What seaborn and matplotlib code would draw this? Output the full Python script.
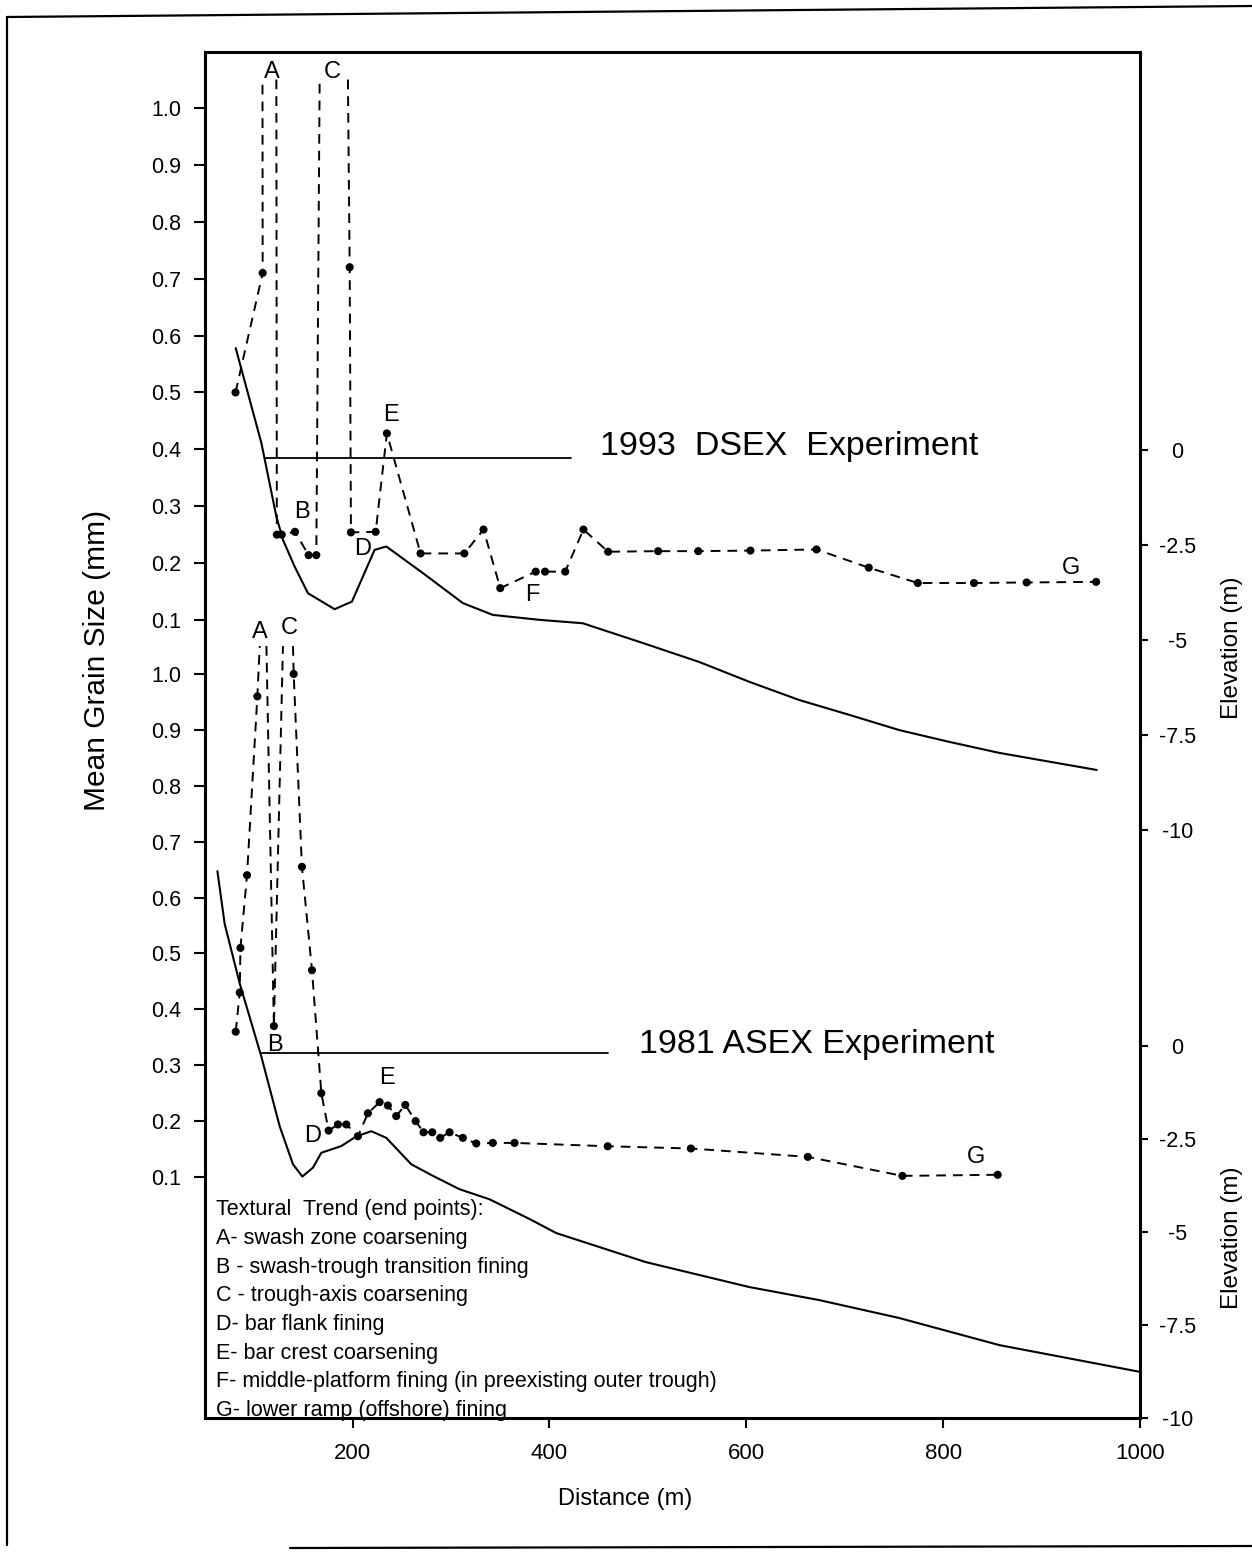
import numpy as np
import pandas as pd
import matplotlib
matplotlib.use("Agg")
import matplotlib.pyplot as plt
import seaborn as sns
from matplotlib.lines import Line2D

# ------------------------------------------------------------------ data
distance_ticks = [200, 400, 600, 800, 1000]
grain_ticks = [0.1, 0.2, 0.3, 0.4, 0.5, 0.6, 0.7, 0.8, 0.9, 1.0]
grain_tick_labels = ["0.1", "0.2", "0.3", "0.4", "0.5", "0.6", "0.7", "0.8", "0.9", "1.0"]
elev_ticks = [0, -2.5, -5, -7.5, -10]
elev_tick_labels = ["0", "-2.5", "-5", "-7.5", "-10"]

# 1993 DSEX: mean grain size samples (mm)
dsex_dist = [81, 108.6, 123, 128, 141.4, 155.3, 163.1, 197, 198.3, 223.4, 234.8,
             269, 313.5, 333, 350, 386, 395.5, 416, 434.5, 459.6, 510.4, 551.2,
             604.2, 671.3, 724.4, 774.2, 831.3, 884.8, 955.4]
dsex_size = [0.50, 0.71, 0.25, 0.25, 0.255, 0.214, 0.214, 0.72, 0.254, 0.255, 0.428,
             0.217, 0.217, 0.259, 0.156, 0.185, 0.185, 0.185, 0.259, 0.22, 0.221, 0.221,
             0.222, 0.224, 0.192, 0.165, 0.165, 0.166, 0.167]
# (sample index after which the trace runs off the top, x where it leaves, x where it returns)
dsex_offscale = [(1, 108.4, 122.5), (6, 166.5, 195.2)]

# 1993 DSEX: beach profile elevation (m)
dsex_prof_dist = [81.2, 107.3, 122.5, 129.3, 141.1, 154.6, 181.7, 199.3, 222.3, 234.2,
                  271.4, 312, 342.4, 389.8, 433.8, 491.4, 552.3, 603, 653.8, 704.6,
                  755.3, 806, 856.9, 956]
dsex_prof_elev = [2.68, 0.18, -1.75, -2.37, -3.07, -3.77, -4.19, -3.99, -2.63, -2.54,
                  -3.24, -4.03, -4.34, -4.47, -4.56, -5.05, -5.58, -6.1, -6.58, -6.97,
                  -7.37, -7.68, -7.97, -8.42]
dsex_water_dist = [111, 422]
dsex_water_elev = [-0.22, -0.22]

# 1981 ASEX: mean grain size samples (mm)
asex_dist = [81.2, 85.3, 86, 92.7, 103.2, 120, 140.1, 148.5, 158.7, 168.2, 175.6, 185.1,
             193.6, 205.4, 215.5, 227.4, 235.8, 244.3, 253.5, 264, 272, 280.9, 289,
             298.5, 312, 325.6, 342.4, 364.5, 459.2, 543.7, 662.5, 758.6, 855.4]
asex_size = [0.36, 0.43, 0.51, 0.64, 0.96, 0.37, 1.00, 0.655, 0.47, 0.25, 0.183, 0.194,
             0.194, 0.173, 0.214, 0.234, 0.228, 0.209, 0.229, 0.20, 0.18, 0.18, 0.17,
             0.18, 0.17, 0.16, 0.161, 0.161, 0.155, 0.151, 0.136, 0.102, 0.104]
asex_offscale = [(4, 105.6, 112.4), (5, 129.2, 139.4)]

# 1981 ASEX: beach profile elevation (m)
asex_prof_dist = [62.6, 70, 85.3, 107.3, 125.9, 139.4, 148.9, 159.7, 168.2, 188.5, 203.7,
                  219, 234.2, 259.6, 281.5, 308.6, 339, 379.7, 407, 498, 603, 674, 755,
                  857, 1000]
asex_prof_elev = [4.70, 3.28, 1.68, -0.29, -2.16, -3.18, -3.51, -3.27, -2.87, -2.69, -2.43,
                  -2.29, -2.47, -3.18, -3.49, -3.85, -4.12, -4.65, -5.03, -5.81, -6.48,
                  -6.83, -7.31, -8.04, -8.76]
asex_water_dist = [107.3, 459.2]
asex_water_elev = [-0.2, -0.2]

OFFSCALE_CAP = 1.05

# letter annotations (distance, grain size)
dsex_letters = ["A", "C", "B", "D", "E", "F", "G"]
dsex_letter_dist = [117.5, 179.7, 148, 209.8, 239.3, 383, 930]
dsex_letter_size = [1.063, 1.063, 0.289, 0.225, 0.46, 0.144, 0.191]
asex_letters = ["A", "C", "B", "D", "E", "G"]
asex_letter_dist = [105.6, 136, 120.8, 159, 235.2, 833.5]
asex_letter_size = [1.076, 1.082, 0.336, 0.173, 0.277, 0.136]

legend_lines = ["Textural  Trend (end points):",
                "A- swash zone coarsening",
                "B - swash-trough transition fining",
                "C - trough-axis coarsening",
                "D- bar flank fining",
                "E- bar crest coarsening",
                "F- middle-platform fining (in preexisting outer trough)",
                "G- lower ramp (offshore) fining"]


def trace_frame(dist, size, offscale, cap):
    breaks = {i: (xo, xi) for i, xo, xi in offscale}
    rows, seg = [], 0
    for i, (d, s) in enumerate(zip(dist, size)):
        rows.append((d, s, seg))
        if i in breaks:
            xo, xi = breaks[i]
            rows.append((xo, cap, seg))
            seg += 1
            rows.append((xi, cap, seg))
    return pd.DataFrame(rows, columns=["dist", "size", "seg"])


# ------------------------------------------------------------------ style
sns.set_theme(style="ticks")
plt.rcParams["font.family"] = ["Liberation Sans", "DejaVu Sans"]
for key in ("text.color", "axes.labelcolor", "xtick.color", "ytick.color", "axes.edgecolor"):
    plt.rcParams[key] = "black"

W, H = 1252, 1552
L, R, T, B = 205, 1140, 52, 1418
fig = plt.figure(figsize=(W / 100, H / 100), dpi=100)
ax = fig.add_axes([L / W, 1 - B / H, (R - L) / W, (B - T) / H])
ax_gb = ax.twinx()
ax_et = ax.twinx()
ax_eb = ax.twinx()

dash = (0, (5, 3.6))

# DSEX grain trace
df = trace_frame(dsex_dist, dsex_size, dsex_offscale, OFFSCALE_CAP)
sns.lineplot(data=df, x="dist", y="size", units="seg", estimator=None, sort=False,
             color="black", lw=1.4, linestyle=dash, ax=ax)
sns.scatterplot(x=dsex_dist, y=dsex_size, color="black", s=34, edgecolor="none", ax=ax)

# ASEX grain trace
df2 = trace_frame(asex_dist, asex_size, asex_offscale, OFFSCALE_CAP)
sns.lineplot(data=df2, x="dist", y="size", units="seg", estimator=None, sort=False,
             color="black", lw=1.4, linestyle=dash, ax=ax_gb)
sns.scatterplot(x=asex_dist, y=asex_size, color="black", s=34, edgecolor="none", ax=ax_gb)

# profiles
sns.lineplot(x=dsex_prof_dist, y=dsex_prof_elev, sort=False, estimator=None,
             color="black", lw=1.5, ax=ax_et)
sns.lineplot(x=dsex_water_dist, y=dsex_water_elev, sort=False, estimator=None,
             color="black", lw=1.3, ax=ax_et)
sns.lineplot(x=asex_prof_dist, y=asex_prof_elev, sort=False, estimator=None,
             color="black", lw=1.5, ax=ax_eb)
sns.lineplot(x=asex_water_dist, y=asex_water_elev, sort=False, estimator=None,
             color="black", lw=1.3, ax=ax_eb)

ax.set_xlim(50, 1000)
ax.set_ylim(-1.3027, 1.0984)
ax_gb.set_ylim(-0.3312, 2.1129)
ax_et.set_ylim(-25.47, 10.47)
ax_eb.set_ylim(-10, 26.72)

# letters
for t, d, s in zip(dsex_letters, dsex_letter_dist, dsex_letter_size):
    ax.text(d, s, t, ha="center", va="center", fontsize=17)
for t, d, s in zip(asex_letters, asex_letter_dist, asex_letter_size):
    ax_gb.text(d, s, t, ha="center", va="center", fontsize=17)

ax_et.text(451, 0.08, "1993  DSEX  Experiment", ha="left", va="center", fontsize=24.5)
ax_eb.text(491.4, 0.05, "1981 ASEX Experiment", ha="left", va="center", fontsize=24.5)

# ticks
ax.set_xticks(distance_ticks)
ax.set_xticklabels([str(v) for v in distance_ticks])
ax.tick_params(axis="x", direction="out", length=7, width=1.5, pad=11, labelsize=16,
               bottom=True, top=False)
for a in (ax, ax_gb):
    a.yaxis.tick_left()
    a.set_yticks(grain_ticks)
    a.set_yticklabels(grain_tick_labels)
    a.tick_params(axis="y", direction="out", length=8, width=1.5, pad=9, labelsize=15.5,
                  left=True, right=False)
for a in (ax_et, ax_eb):
    a.yaxis.tick_right()
    a.set_yticks(elev_ticks)
    a.set_yticklabels(elev_tick_labels, ha="center")
    a.tick_params(axis="y", direction="out", length=6, width=1.5, pad=21, labelsize=15.5,
                  right=True, left=False)

for a in (ax_gb, ax_et, ax_eb):
    for sp in a.spines.values():
        sp.set_visible(False)
    a.set_ylabel("")
    a.set_xlabel("")
for sp in ax.spines.values():
    sp.set_visible(True)
    sp.set_linewidth(2.2)
    sp.set_color("black")

ax.set_xlabel("Distance (m)", fontsize=17)
ax.xaxis.set_label_coords((625 - L) / (R - L), -(1488 - B) / (B - T))
ax.set_ylabel("Mean Grain Size (mm)", fontsize=21.5)
ax.yaxis.set_label_coords((97 - L) / (R - L), 1 - (660 - T) / (B - T))
ax.yaxis.label.set_verticalalignment("center")

fig.text(1232 / W, 1 - 648 / H, "Elevation (m)", rotation=90, ha="center", va="center",
         fontsize=17.5)
fig.text(1232 / W, 1 - 1238 / H, "Elevation (m)", rotation=90, ha="center", va="center",
         fontsize=17.5)

# legend text block
for k, line in enumerate(legend_lines):
    fig.text(216 / W, 1 - (1210 + k * 28.6) / H, line, ha="left", va="center", fontsize=15.5)

# outer frame of the scanned figure
fig.add_artist(Line2D([7 / W, 7 / W], [1 - 17 / H, 1 - 1545 / H], transform=fig.transFigure,
                      color="black", lw=1.6))
fig.add_artist(Line2D([7 / W, 1.0], [1 - 17 / H, 1 - 6 / H], transform=fig.transFigure,
                      color="black", lw=1.6))
fig.add_artist(Line2D([290 / W, 1.0], [1 - 1548 / H, 1 - 1546 / H], transform=fig.transFigure,
                      color="black", lw=1.6))

fig.savefig("out.png", dpi=100, facecolor="white")
